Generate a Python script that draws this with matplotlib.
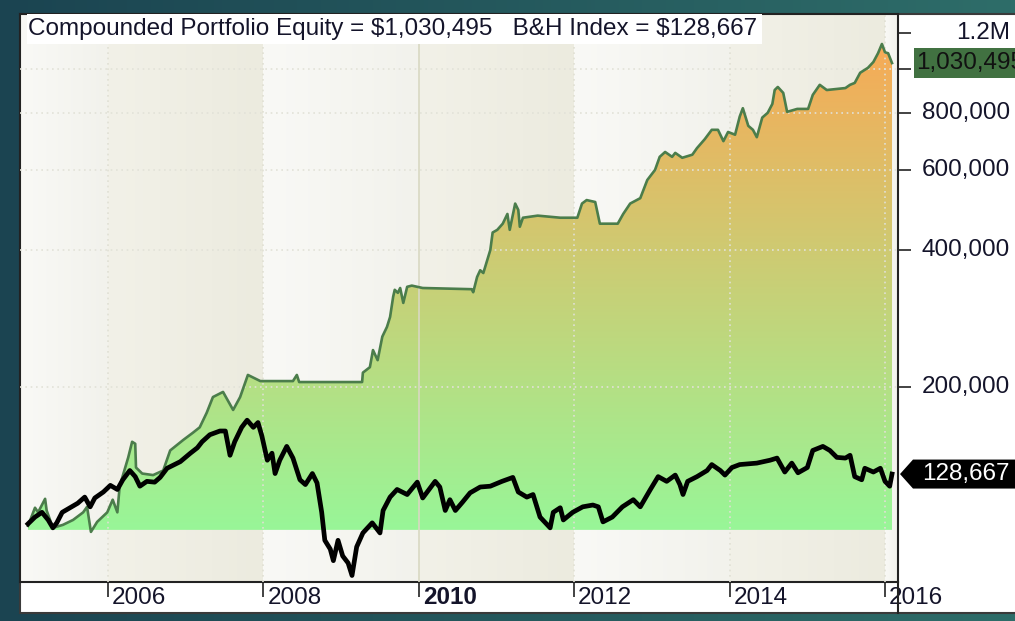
"""Compounded portfolio equity vs buy & hold index, log scale"""

import numpy as np
import matplotlib.pyplot as plt
import matplotlib.transforms as mtransforms
from matplotlib.patches import Rectangle, Polygon
from matplotlib.lines import Line2D
from matplotlib.colors import LinearSegmentedColormap, to_rgb
from matplotlib.ticker import NullLocator

plt.rcParams['font.family'] = ['Liberation Sans', 'DejaVu Sans']

# %% data (decimal year, dollars)
eq_t = [2004.97, 2005.06, 2005.10, 2005.19, 2005.21, 2005.29, 2005.42, 2005.55, 2005.68, 2005.73,
        2005.78, 2005.86, 2005.99, 2006.06, 2006.12, 2006.15, 2006.26, 2006.31, 2006.35, 2006.36,
        2006.44, 2006.58, 2006.71, 2006.80, 2006.97, 2007.09, 2007.18, 2007.27, 2007.35, 2007.48,
        2007.61, 2007.70, 2007.80, 2007.96, 2008.38, 2008.43, 2008.46, 2009.27, 2009.28, 2009.37,
        2009.41, 2009.47, 2009.53, 2009.59, 2009.63, 2009.67, 2009.69, 2009.73, 2009.76, 2009.80,
        2009.85, 2009.91, 2010.05, 2010.68, 2010.70, 2010.75, 2010.79, 2010.83, 2010.92, 2010.95,
        2011.01, 2011.08, 2011.14, 2011.17, 2011.24, 2011.28, 2011.30, 2011.34, 2011.53, 2011.82,
        2012.04, 2012.10, 2012.16, 2012.27, 2012.33, 2012.56, 2012.63, 2012.72, 2012.85, 2012.94,
        2013.04, 2013.10, 2013.17, 2013.26, 2013.30, 2013.39, 2013.52, 2013.58, 2013.68, 2013.77,
        2013.85, 2013.92, 2013.98, 2014.07, 2014.13, 2014.17, 2014.24, 2014.30, 2014.35, 2014.42,
        2014.49, 2014.55, 2014.58, 2014.62, 2014.69, 2014.74, 2014.87, 2015.01, 2015.07, 2015.16,
        2015.25, 2015.49, 2015.55, 2015.61, 2015.68, 2015.78, 2015.85, 2015.91, 2015.96, 2016.00,
        2016.04, 2016.09]
eq_v = [99000, 108500, 106000, 113500, 107000, 98000, 99500, 102000, 106000, 109000,
        96000, 101000, 106000, 113000, 106000, 121000, 140000, 151500, 150000, 133000,
        129000, 128000, 131000, 145000, 153000, 158500, 163000, 175500, 190000, 195000,
        178000, 190000, 212500, 206000, 206000, 212500, 205000, 205000, 215000, 221000,
        241000, 229000, 258000, 271000, 285000, 316000, 327000, 322000, 330000, 306000,
        332000, 334000, 330000, 328000, 323000, 349000, 361000, 356000, 400000, 437000,
        443000, 457000, 480000, 443000, 506000, 490000, 450000, 471000, 476000, 471000,
        471000, 506000, 515000, 510000, 457000, 457000, 480000, 506000, 520000, 570000,
        600000, 641000, 657000, 641000, 654000, 638000, 648000, 670000, 701000, 735000,
        735000, 694000, 727000, 717000, 786000, 820000, 750000, 735000, 708000, 782000,
        801000, 838000, 899000, 913000, 886000, 805000, 817000, 817000, 877000, 923000,
        899000, 908000, 923000, 932000, 981000, 1006000, 1036000, 1083000, 1135000, 1088000,
        1083000, 1030495]

bh_t = [2004.97, 2005.06, 2005.15, 2005.23, 2005.29, 2005.34, 2005.41, 2005.51, 2005.61, 2005.70,
        2005.77, 2005.83, 2005.94, 2006.03, 2006.12, 2006.19, 2006.28, 2006.35, 2006.41, 2006.50,
        2006.60, 2006.67, 2006.76, 2006.93, 2007.06, 2007.15, 2007.21, 2007.31, 2007.44, 2007.51,
        2007.57, 2007.63, 2007.72, 2007.79, 2007.87, 2007.93, 2007.98, 2008.05, 2008.11, 2008.15,
        2008.21, 2008.30, 2008.38, 2008.47, 2008.54, 2008.63, 2008.69, 2008.75, 2008.79, 2008.86,
        2008.90, 2008.96, 2009.02, 2009.09, 2009.14, 2009.20, 2009.28, 2009.40, 2009.50, 2009.54,
        2009.63, 2009.72, 2009.85, 2009.98, 2010.05, 2010.21, 2010.27, 2010.34, 2010.40, 2010.47,
        2010.56, 2010.66, 2010.79, 2010.92, 2011.07, 2011.21, 2011.28, 2011.39, 2011.47, 2011.56,
        2011.69, 2011.73, 2011.82, 2011.86, 2011.98, 2012.11, 2012.24, 2012.31, 2012.37, 2012.49,
        2012.62, 2012.76, 2012.85, 2012.98, 2013.08, 2013.19, 2013.30, 2013.36, 2013.40, 2013.46,
        2013.58, 2013.71, 2013.77, 2013.88, 2013.94, 2014.03, 2014.13, 2014.35, 2014.52, 2014.61,
        2014.71, 2014.80, 2014.88, 2015.00, 2015.07, 2015.20, 2015.29, 2015.38, 2015.49, 2015.55,
        2015.61, 2015.70, 2015.74, 2015.85, 2015.94, 2016.00, 2016.06, 2016.09]
bh_v = [100000, 103500, 106000, 102000, 98000, 100500, 106000, 108500, 111000, 114500,
        109000, 114000, 117500, 121500, 119000, 125000, 131000, 127000, 121000, 124000,
        123500, 126500, 132500, 137000, 143000, 147000, 151500, 157000, 160000, 160000,
        141500, 151500, 163000, 169000, 163000, 167000, 156000, 138000, 143000, 129000,
        138000, 148000, 139500, 125000, 122000, 129000, 123000, 106000, 92000, 88000,
        83000, 92000, 85000, 82000, 77000, 89000, 95500, 100500, 95500, 107000,
        114500, 119000, 116000, 123500, 114000, 124000, 120500, 107000, 113000, 107000,
        111500, 117000, 120500, 121000, 124000, 126500, 117500, 114500, 116000, 103500,
        98000, 106000, 108500, 102000, 106000, 109000, 110000, 109000, 101000, 103500,
        109000, 113000, 109000, 119000, 127000, 124000, 128000, 122000, 116000, 124000,
        127000, 131000, 135000, 131000, 128000, 133000, 135000, 136000, 138000, 139500,
        130000, 136000, 129500, 133000, 145000, 148000, 145000, 140000, 139500, 141500,
        127000, 125000, 132500, 130000, 132500, 124000, 121000, 128667]

final_equity = eq_v[-1]
final_bh = bh_v[-1]
fill_base = 97000

x_ticks = [2006, 2008, 2010, 2012, 2014, 2016]
x_labels = ['2006', '2008', '2010', '2012', '2014', '2016']
y_ticks = [200000, 400000, 600000, 800000, 1000000, 1200000]
y_labels = ['200,000', '400,000', '600,000', '800,000', '', '1.2M']
grid_levels = [200000, 400000, 600000, 800000, 1000000]

# %% figure
W, H = 1015, 621
fig = plt.figure(figsize=(W / 100, H / 100), dpi=100)
FS = 17.5


def fx(px):
    return px / W


def fy(py):
    return 1 - py / H


# teal backdrop + white panel
bg = fig.add_axes([0, 0, 1, 1], zorder=-10)
teal = LinearSegmentedColormap.from_list('teal', ['#1b4451', '#2e6d69'])
bg.imshow(np.linspace(0, 1, 256)[None, :], cmap=teal, aspect='auto', extent=[0, 1, 0, 1])
bg.set_axis_off()
fig.add_artist(Rectangle((fx(20), fy(613)), 1.0, fy(14) - fy(613), transform=fig.transFigure,
                         fc='white', ec='#3a3a3a', lw=1.5, zorder=-5))

ax = fig.add_axes([fx(20), fy(582), fx(898) - fx(20), fy(14) - fy(582)])
ax.set_yscale('log')
x_lo, x_hi = 2004.867, 2016.167
y_lo, y_hi = 74500, 1321000
ax.set_xlim(x_lo, x_hi)
ax.set_ylim(y_lo, y_hi)
ax.set_autoscale_on(False)

# alternating two-year background bands with a soft horizontal gradient
edges = [x_lo] + x_ticks + [x_hi]
band_cols = [('#f9f9f6', '#f2f2ec'), ('#f2f1e8', '#ecebdf')]
g = np.linspace(0, 1, 64)[None, :, None]
for i in range(len(edges) - 1):
    a = (edges[i] - x_lo) / (x_hi - x_lo)
    b = (edges[i + 1] - x_lo) / (x_hi - x_lo)
    c0, c1 = band_cols[i % 2]
    img = (1 - g) * np.array(to_rgb(c0)) + g * np.array(to_rgb(c1))
    ax.imshow(img, extent=[a, b, 0, 1], transform=ax.transAxes, aspect='auto', zorder=0)


# gradient fill under the equity curve (green at base -> orange at top)
def frac(v):
    return (np.log(v) - np.log(y_lo)) / (np.log(y_hi) - np.log(y_lo))


f_lo, f_hi = frac(fill_base), frac(max(eq_v))
green = np.array(to_rgb('#98f698'))
orange = np.array(to_rgb('#f7aa56'))
f = np.linspace(0, 1, 600)[:, None, None]
t = np.clip((f - f_lo) / (f_hi - f_lo), 0, 1)
fill_img = green * (1 - t) + orange * t
poly = Polygon(np.column_stack([eq_t + [eq_t[-1], eq_t[0]], eq_v + [fill_base, fill_base]]),
               closed=True, transform=ax.transData, fc='none', ec='none')
ax.add_patch(poly)
im = ax.imshow(fill_img, extent=[0, 1, 0, 1], origin='lower', transform=ax.transAxes,
               aspect='auto', zorder=2)
im.set_clip_path(poly)

# grid
for v in grid_levels:
    ax.axhline(v, color='#e2e2d8', lw=1.2, ls=(0, (1, 2.2)), zorder=3)
for yr in x_ticks:
    if yr == 2010:
        ax.axvline(yr, color='#d8d8c2', lw=1.2, zorder=3)
    else:
        ax.axvline(yr, color='#e0e0d4', lw=1.2, ls=(0, (1, 2.2)), zorder=3)

# curves
ax.plot(eq_t, eq_v, color='#4b7d4b', lw=1.9, zorder=5)
ax.plot(bh_t, bh_v, color='black', lw=3.4, zorder=6)

# axes / ticks
for side in ['left', 'top', 'right', 'bottom']:
    ax.spines[side].set_color('#222222')
    ax.spines[side].set_linewidth(1.5)
ax.set_xticks(x_ticks)
ax.set_xticklabels([])
ax.tick_params(axis='x', direction='out', length=11, width=1.2, color='#222222')
ax.set_yticks(y_ticks)
ax.yaxis.set_minor_locator(NullLocator())
ax.tick_params(axis='y', which='both', left=False, right=True, labelleft=False,
               labelright=False, direction='out', length=9, width=1.2, color='#222222')

txt_col = '#14142a'
xt = mtransforms.offset_copy(ax.get_xaxis_transform(), fig=fig, x=4, y=0, units='dots')
for yr, lab in zip(x_ticks, x_labels):
    ax.text(yr, -16 / 568, lab, transform=xt, ha='left', va='center', fontsize=FS,
            fontweight='bold' if yr == 2010 else 'normal', color=txt_col, clip_on=False)

yt = ax.get_yaxis_transform()
for v, lab in zip(y_ticks, y_labels):
    if lab:
        ax.text((1010 - 20) / 878, v, lab, transform=yt, ha='right', va='center',
                fontsize=FS, color=txt_col, clip_on=False)

# extend right spine through the date band
fig.add_artist(Line2D([fx(898), fx(898)], [fy(613), fy(582)], transform=fig.transFigure,
                      color='#222222', lw=1.5))

# title box
ax.add_patch(Rectangle((7 / 878, (582 - 44) / 568), (762 - 27) / 878, 1.0,
                       transform=ax.transAxes, fc='white', ec='none', zorder=7))
title = f"Compounded Portfolio Equity = ${final_equity:,}   B&H Index = ${final_bh:,}"
ax.text(8 / 878, (582 - 29) / 568, title, transform=ax.transAxes, ha='left', va='center',
        fontsize=FS, color=txt_col, zorder=8, parse_math=False)

# last-value markers on the right axis
ident = mtransforms.IdentityTransform()
_, ye = ax.transData.transform((x_hi, final_equity))
fig.add_artist(Rectangle((914, ye - 15), 130, 30, transform=ident, fc='#417141', ec='none', zorder=5))
fig.text(916 / W, ye / H, f"{final_equity:,}", ha='left', va='center', fontsize=FS,
         color='#111111', zorder=6)

_, yb = ax.transData.transform((x_hi, final_bh))
arrow = [(900, yb), (913, yb + 14.5), (1040, yb + 14.5), (1040, yb - 14.5), (913, yb - 14.5)]
fig.add_artist(Polygon(arrow, closed=True, transform=ident, fc='black', ec='none', zorder=5))
fig.text(922 / W, yb / H, f"{final_bh:,}", ha='left', va='center', fontsize=FS,
         color='white', zorder=6)

fig.savefig('out.png', dpi=100)
